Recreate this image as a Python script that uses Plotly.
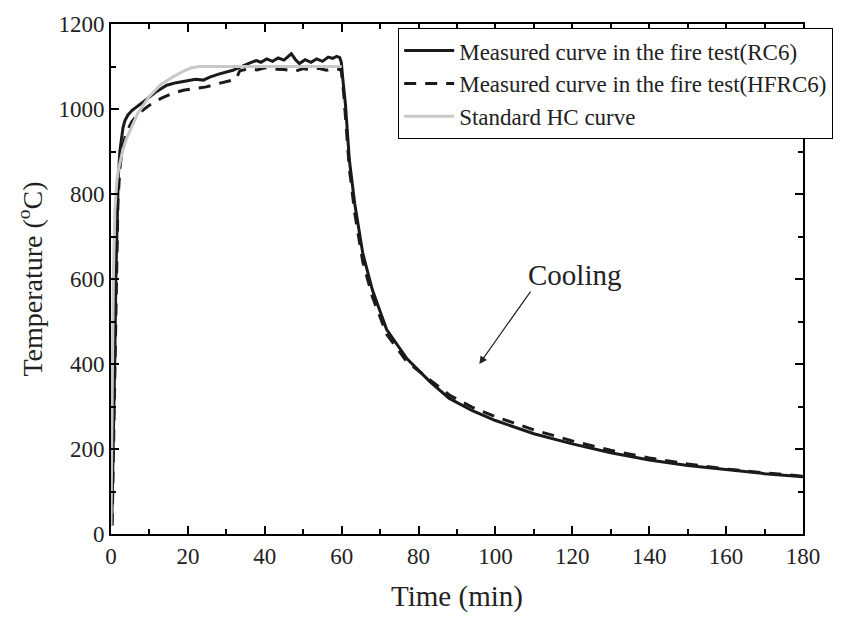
import plotly.graph_objects as go

# ---- data ----
rc6_time = [0.2, 0.6, 1.0, 1.3, 1.6, 1.9, 2.3, 2.7, 3.1, 3.6, 4.4, 5.5, 7, 8.4, 10, 12, 14.5, 17,
            19.7, 22, 24, 25.7, 28, 30, 31.7, 33, 34.3, 36, 37.8, 39, 40.5, 42, 43.5, 45, 46.9, 48,
            49, 50.5, 52, 53.5, 55, 56.5, 57.7, 58.7, 59.5, 59.9,
            60.3, 60.7, 61.0, 62.0, 63.4, 65.5, 68, 71.7, 77, 83, 88, 94, 100, 110, 120, 130,
            140, 150, 160, 170, 180]
rc6_temp = [25, 200, 420, 620, 760, 840, 900, 935, 955, 972, 986, 997, 1008, 1017, 1028, 1042, 1056, 1062,
            1067, 1070, 1068, 1075, 1082, 1086, 1091, 1096, 1102, 1108, 1114, 1110, 1118, 1112, 1120, 1115, 1130, 1116,
            1107, 1116, 1110, 1118, 1112, 1122, 1119, 1124, 1121, 1110,
            1070, 1030, 1009, 880, 777, 660, 574, 481, 412, 358, 319, 290, 267, 236, 212, 191,
            174, 161, 151, 142, 135]

hfrc6_time = [0.3, 0.8, 1.3, 1.8, 2.3, 3, 4, 5.4, 7, 10, 13, 16, 18.8, 22, 24.8, 28, 31, 32.5,
              33.5, 36, 38, 40, 42, 45, 48, 50, 52, 54, 56, 58, 59.5, 59.9,
              60.5, 61, 62, 63.4, 65.5, 68, 71.7, 77, 83, 88, 94, 100, 110, 120, 130, 140, 150,
              160, 170, 180]
hfrc6_temp = [20, 300, 600, 780, 860, 910, 945, 970, 988, 1009, 1025, 1037, 1044, 1048, 1052, 1060, 1066, 1070,
              1090, 1095, 1092, 1097, 1094, 1093, 1089, 1095, 1092, 1096, 1091, 1095, 1093, 1090,
              1040, 985, 860, 755, 640, 558, 470, 405, 362, 327, 298, 276, 245, 219, 197, 179, 165,
              153, 144, 136]

hc_time = [0, 0.3, 0.6, 1, 1.5, 2, 3, 4, 5, 7, 10, 13, 16, 19, 21, 23, 30, 40, 50, 60]
hc_temp = [20, 400, 600, 760, 830, 860, 900, 930, 950, 990, 1030, 1058, 1075, 1090, 1097, 1100, 1100, 1100, 1100, 1100]

series_names = ["Measured curve in the fire test(RC6)",
                "Measured curve in the fire test(HFRC6)",
                "Standard HC curve"]

x_ticks = [0, 20, 40, 60, 80, 100, 120, 140, 160, 180]
y_ticks = [0, 200, 400, 600, 800, 1000, 1200]

FONT = "Liberation Serif, Times New Roman, serif"
TXT = "#222"

fig = go.Figure()
fig.add_trace(go.Scatter(x=rc6_time, y=rc6_temp, mode="lines", name=series_names[0],
                         line=dict(color="#1a1a1a", width=3)))
fig.add_trace(go.Scatter(x=hfrc6_time, y=hfrc6_temp, mode="lines", name=series_names[1],
                         line=dict(color="#1a1a1a", width=3, dash="12px,9px")))
fig.add_trace(go.Scatter(x=hc_time, y=hc_temp, mode="lines", name=series_names[2],
                         line=dict(color="#c8c8c8", width=3)))

axis_common = dict(
    showline=True, linecolor="black", linewidth=2, mirror="ticks",
    ticks="inside", ticklen=8, tickwidth=1.5, tickcolor="black",
    showgrid=False, zeroline=False,
    tickfont=dict(family=FONT, size=23, color=TXT),
)

fig.update_xaxes(range=[0, 180], tickvals=x_ticks, ticktext=[str(v) for v in x_ticks],
                 minor=dict(dtick=10, ticks="inside", ticklen=5, tickwidth=1.5, tickcolor="black"),
                 title=dict(text="Time (min)", font=dict(family=FONT, size=29, color=TXT), standoff=18),
                 **axis_common)
fig.update_yaxes(range=[0, 1200], tickvals=y_ticks, ticktext=[str(v) for v in y_ticks],
                 minor=dict(dtick=100, ticks="inside", ticklen=5, tickwidth=1.5, tickcolor="black"),
                 title=dict(text="Temperature (<sup>o</sup>C)", font=dict(family=FONT, size=28, color=TXT), standoff=8),
                 **axis_common)

fig.add_annotation(x=95.8, y=400, ax=109.4, ay=574, xref="x", yref="y", axref="x", ayref="y",
                   text="", showarrow=True, arrowhead=2, arrowsize=1.3, arrowwidth=1.2, arrowcolor=TXT)
fig.add_annotation(x=120.5, y=609, xref="x", yref="y", text="Cooling", showarrow=False,
                   font=dict(family=FONT, size=29, color=TXT))

fig.update_layout(
    width=850, height=621,
    margin=dict(l=111, r=47, t=18, b=87),
    paper_bgcolor="white", plot_bgcolor="white",
    showlegend=True,
    legend=dict(x=0.415, y=0.992, xanchor="left", yanchor="top",
                bgcolor="white", bordercolor="black", borderwidth=1,
                font=dict(family=FONT, size=23, color=TXT),
                tracegroupgap=0, itemwidth=50),
)

fig.write_html("out.html")
